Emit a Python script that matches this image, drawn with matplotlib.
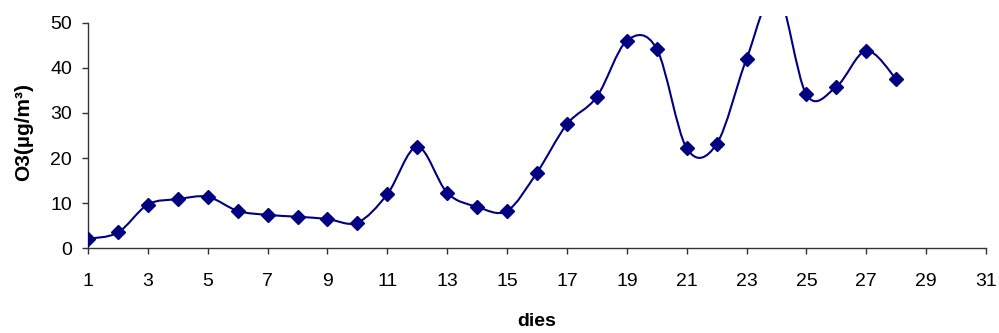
import matplotlib
matplotlib.use("Agg")
import matplotlib.pyplot as plt
from matplotlib.path import Path
from matplotlib.patches import PathPatch
import numpy as np

days = list(range(1, 29))
o3 = [2.1, 3.5, 9.7, 10.9, 11.4, 8.3, 7.4, 7.0, 6.5, 5.7,
      12.0, 22.5, 12.3, 9.2, 8.3, 16.8, 27.5, 33.6, 46.0, 44.2,
      22.2, 23.1, 42.0, 57.0, 34.1, 35.8, 43.8, 37.5]
xticks = list(range(1, 32, 2))
yticks = [0, 10, 20, 30, 40, 50]

plt.rcParams['font.family'] = ['Liberation Sans', 'DejaVu Sans']

fig = plt.figure(figsize=(9.99, 3.33), dpi=100)
ax = fig.add_axes([0.0881, 0.2544, 0.8989, 0.6976])

color = '#000080'

# Smoothed line (Bezier, Catmull-Rom style control points)
x = np.array(days, dtype=float)
y = np.array(o3, dtype=float)
n = len(x)
verts = [(x[0], y[0])]
codes = [Path.MOVETO]
for i in range(n - 1):
    p0 = np.array([x[max(i - 1, 0)], y[max(i - 1, 0)]])
    p1 = np.array([x[i], y[i]])
    p2 = np.array([x[i + 1], y[i + 1]])
    p3 = np.array([x[min(i + 2, n - 1)], y[min(i + 2, n - 1)]])
    c1 = p1 + (p2 - p0) / 6.0
    c2 = p2 - (p3 - p1) / 6.0
    verts += [tuple(c1), tuple(c2), tuple(p2)]
    codes += [Path.CURVE4] * 3
patch = PathPatch(Path(verts, codes), facecolor='none', edgecolor=color, lw=1.5, zorder=2)
ax.add_patch(patch)

ax.plot(days, o3, linestyle='none', marker='D', markersize=6.8,
        markerfacecolor=color, markeredgecolor=color, zorder=3)

ax.set_xlim(1, 31)
ax.set_ylim(0, 51.5)
ax.set_xticks(xticks)
ax.set_yticks(yticks)
ax.spines['top'].set_visible(False)
ax.spines['right'].set_visible(False)
ax.spines['left'].set_bounds(0, 50)
for s in ('left', 'bottom'):
    ax.spines[s].set_color('#333333')
    ax.spines[s].set_linewidth(1.0)
ax.tick_params(axis='both', direction='out', length=4.5, width=1, color='#333333',
               labelsize=14, labelcolor='black')
ax.tick_params(axis='x', pad=13)
ax.tick_params(axis='y', pad=7)

ax.set_xlabel('dies', fontsize=14, fontweight='bold')
ax.xaxis.set_label_coords(0.5, -0.28)
ax.set_ylabel('O3(µg/m³)', fontsize=15, fontweight='bold')
ax.yaxis.set_label_coords(-0.061, 0.5)

fig.savefig('out.png', dpi=100)
